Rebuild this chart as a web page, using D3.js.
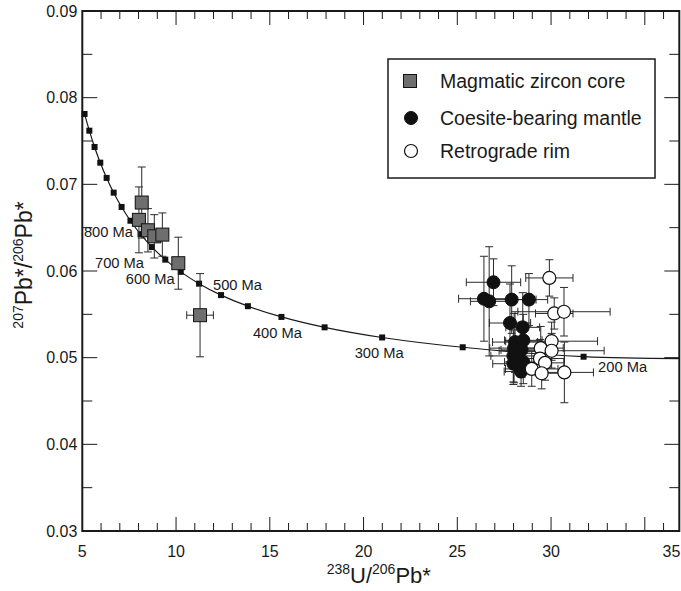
<!DOCTYPE html>
<html>
<head>
<meta charset="utf-8">
<script src="https://cdn.jsdelivr.net/npm/d3@7"></script>
<style>
  html, body { margin: 0; padding: 0; background: #ffffff; }
  svg { display: block; }
  text { font-family: "Liberation Sans", Arial, sans-serif; fill: #1a1a1a; }
</style>
</head>
<body>
<svg id="chart" width="681" height="591"></svg>
<script>
// ---------------- DATA ----------------
// Concordia tick marks (every 50 Ma), 238U/206Pb* and 207Pb*/206Pb*
const concordiaAges = [1150,1100,1050,1000,950,900,850,800,750,700,650,600,550,500,450,400,350,300,250,200];
const concordiaX = [5.12,5.375,5.653,5.959,6.298,6.674,7.095,7.568,8.105,8.718,9.426,10.252,11.228,12.399,13.831,15.621,17.923,20.992,25.289,31.735];
const concordiaY = [0.07812,0.07619,0.07431,0.07250,0.07074,0.06904,0.06739,0.06580,0.06425,0.06276,0.06131,0.05990,0.05854,0.05722,0.05594,0.05470,0.05350,0.05233,0.05120,0.05011];
// the curve continues to the right edge of the frame
const concordiaEndX = 36.9;
const concordiaEndY = 0.0499;

const ageLabelAges = [800,700,600,500,400,300,200];
const ageLabelText = ["800 Ma","700 Ma","600 Ma","500 Ma","400 Ma","300 Ma","200 Ma"];

// Magmatic zircon core
const coreX    = [8.17, 8.02, 8.50, 8.84, 9.27, 10.12, 11.28];
const coreY    = [0.0679,0.0659,0.0647,0.0640,0.0642,0.0609,0.0549];
const coreXErr = [0.30, 0.30, 0.35, 0.30, 0.30, 0.30, 0.71];
const coreYErr = [0.0041,0.0038,0.0025,0.0025,0.0025,0.0030,0.0048];

// Coesite-bearing mantle
const mantleX    = [26.93,26.42,26.70,27.90,28.82,27.81,28.49,28.08,28.52,28.03,28.43,27.99,28.52,27.99,28.40];
const mantleY    = [0.0587,0.0568,0.0565,0.0567,0.0567,0.0540,0.0535,0.0518,0.0520,0.0511,0.0509,0.0502,0.0495,0.0493,0.0484];
const mantleXErr = [1.45, 1.35, 1.00, 1.30, 1.00, 1.10, 0.90, 1.20, 1.00, 1.30, 1.10, 1.20, 1.00, 1.10, 0.90];
const mantleYErr = [0.0027,0.0049,0.0063,0.0039,0.0030,0.0045,0.0040,0.0035,0.0030,0.0040,0.0032,0.0030,0.0025,0.0024,0.0017];

// Retrograde rim
const rimX    = [29.91,30.17,30.69,30.03,29.45,30.03,29.41,29.68,28.97,29.50,30.71];
const rimY    = [0.0592,0.0551,0.0553,0.0519,0.0511,0.0508,0.0499,0.0494,0.0487,0.0482,0.0483];
const rimXErr = [1.26, 1.00, 2.46, 2.45, 1.20, 2.80, 1.30, 1.00, 1.40, 1.00, 1.55];
const rimYErr = [0.0021,0.0018,0.0028,0.0022,0.0025,0.0020,0.0022,0.0020,0.0020,0.0018,0.0035];

const xMajorTicks = [5,10,15,20,25,30,35];
const yMajorTicks = [0.03,0.04,0.05,0.06,0.07,0.08,0.09];
const yTickLabels = ["0.03","0.04","0.05","0.06","0.07","0.08","0.09"];

const legendLabels = ["Magmatic zircon core","Coesite-bearing mantle","Retrograde rim"];

// ---------------- LAYOUT ----------------
const svg = d3.select("#chart");
const x = d3.scaleLinear().domain([5, 36.84]).range([82.3, 679.3]);
const y = d3.scaleLinear().domain([0.03, 0.09]).range([531, 11]);
const [x0, x1] = x.range();
const [y0, y1] = y.range(); // y0 bottom, y1 top
const ink = "#1a1a1a";

// ---------- ticks (inside, all four sides) ----------
const gt = svg.append("g").attr("stroke", ink).attr("stroke-width", 1);
const xMinor = d3.range(6, 37, 1);
xMinor.forEach(v => {
  const major = v % 5 === 0;
  const len = major ? 14 : 8;
  gt.append("line").attr("x1", x(v)).attr("x2", x(v)).attr("y1", y0).attr("y2", y0 - len);
  gt.append("line").attr("x1", x(v)).attr("x2", x(v)).attr("y1", y1).attr("y2", y1 + len);
});
const yMinor = d3.range(0.035, 0.0899, 0.005);
yMinor.forEach(v => {
  const major = Math.abs(Math.round(v * 1000) % 10) === 0;
  const len = major ? 15 : 10;
  gt.append("line").attr("x1", x0).attr("x2", x0 + len).attr("y1", y(v)).attr("y2", y(v));
  gt.append("line").attr("x1", x1).attr("x2", x1 - len).attr("y1", y(v)).attr("y2", y(v));
});

// frame
svg.append("rect").attr("x", x0).attr("y", y1).attr("width", x1 - x0).attr("height", y0 - y1)
  .attr("fill", "none").attr("stroke", ink).attr("stroke-width", 2);

// tick labels
svg.append("g").selectAll("text").data(xMajorTicks).join("text")
  .attr("x", d => d === 35 ? x1 + 1 : x(d))
  .attr("y", 557)
  .attr("text-anchor", d => d === 35 ? "end" : "middle")
  .attr("font-size", 16)
  .text(d => d);
svg.append("g").selectAll("text").data(yMajorTicks).join("text")
  .attr("x", x0 - 5)
  .attr("y", d => y(d))
  .attr("dy", "0.36em")
  .attr("text-anchor", "end")
  .attr("font-size", 16)
  .text((d, i) => yTickLabels[i]);

// axis titles
const xt = svg.append("text").attr("x", (x0 + x1) / 2 - 2).attr("y", 583).attr("text-anchor", "middle");
xt.append("tspan").attr("font-size", 14).attr("dy", -9).text("238");
xt.append("tspan").attr("font-size", 22).attr("dy", 9).text("U/");
xt.append("tspan").attr("font-size", 14).attr("dy", -9).text("206");
xt.append("tspan").attr("font-size", 22).attr("dy", 9).text("Pb*");

const yt = svg.append("text").attr("transform", "translate(32,265) rotate(-90)").attr("text-anchor", "middle");
yt.append("tspan").attr("font-size", 14).attr("dy", -9).text("207");
yt.append("tspan").attr("font-size", 23).attr("dy", 9).text("Pb*/");
yt.append("tspan").attr("font-size", 14).attr("dy", -9).text("206");
yt.append("tspan").attr("font-size", 23).attr("dy", 9).text("Pb*");

// ---------- concordia ----------
const plot = svg.append("g");
svg.append("clipPath").attr("id", "clip").append("rect")
  .attr("x", x0).attr("y", y1).attr("width", x1 - x0).attr("height", y0 - y1);

const curvePts = concordiaX.map((v, i) => [v, concordiaY[i]]).concat([[concordiaEndX, concordiaEndY]]);
plot.append("path")
  .attr("clip-path", "url(#clip)")
  .attr("d", d3.line().x(d => x(d[0])).y(d => y(d[1])).curve(d3.curveCatmullRom)(curvePts))
  .attr("fill", "none").attr("stroke", ink).attr("stroke-width", 1.2);

plot.append("g").selectAll("rect").data(concordiaAges).join("rect")
  .attr("x", (d, i) => x(concordiaX[i]) - 3)
  .attr("y", (d, i) => y(concordiaY[i]) - 3)
  .attr("width", 6).attr("height", 6)
  .attr("fill", "#111");

// age labels: offsets relative to the concordia point
const labelStyle = {
  800: {anchor: "end",    dx: 2.5, dy: 16},
  700: {anchor: "end",    dx: -8,  dy: 21},
  600: {anchor: "end",    dx: -6,  dy: 12},
  500: {anchor: "start",  dx: -8,  dy: -5},
  400: {anchor: "middle", dx: -4,  dy: 21},
  300: {anchor: "middle", dx: -3,  dy: 21},
  200: {anchor: "start",  dx: 14.5, dy: 15}
};

// ---------- error bars ----------
function errorBars(g, xs, ys, xe, ye, color) {
  const cap = 4;
  xs.forEach((xv, i) => {
    const cx = x(xv), cy = y(ys[i]);
    const xa = x(xv - xe[i]), xb = x(xv + xe[i]);
    const ya = y(ys[i] - ye[i]), yb = y(ys[i] + ye[i]);
    const e = g.append("g").attr("stroke", color).attr("stroke-width", 1);
    e.append("line").attr("x1", xa).attr("x2", xb).attr("y1", cy).attr("y2", cy);
    e.append("line").attr("x1", xa).attr("x2", xa).attr("y1", cy - cap).attr("y2", cy + cap);
    e.append("line").attr("x1", xb).attr("x2", xb).attr("y1", cy - cap).attr("y2", cy + cap);
    e.append("line").attr("x1", cx).attr("x2", cx).attr("y1", ya).attr("y2", yb);
    e.append("line").attr("x1", cx - cap).attr("x2", cx + cap).attr("y1", ya).attr("y2", ya);
    e.append("line").attr("x1", cx - cap).attr("x2", cx + cap).attr("y1", yb).attr("y2", yb);
  });
}
const eb = svg.append("g").attr("clip-path", "url(#clip)");
errorBars(eb, coreX, coreY, coreXErr, coreYErr, "#2a2a2a");
errorBars(eb, mantleX, mantleY, mantleXErr, mantleYErr, "#2a2a2a");
errorBars(eb, rimX, rimY, rimXErr, rimYErr, "#2a2a2a");

// labels drawn after error bars
svg.append("g").selectAll("text").data(ageLabelAges).join("text")
  .attr("x", d => x(concordiaX[concordiaAges.indexOf(d)]) + labelStyle[d].dx)
  .attr("y", d => y(concordiaY[concordiaAges.indexOf(d)]) + labelStyle[d].dy)
  .attr("text-anchor", d => labelStyle[d].anchor)
  .attr("font-size", 14.7)
  .text((d, i) => ageLabelText[i]);

// ---------- markers ----------
const sq = 13, r = 6.5;
svg.append("g").selectAll("rect").data(coreX).join("rect")
  .attr("x", d => x(d) - sq / 2)
  .attr("y", (d, i) => y(coreY[i]) - sq / 2)
  .attr("width", sq).attr("height", sq)
  .attr("fill", "#6e6e6e").attr("stroke", "#111").attr("stroke-width", 1);

svg.append("g").selectAll("circle").data(mantleX).join("circle")
  .attr("cx", d => x(d))
  .attr("cy", (d, i) => y(mantleY[i]))
  .attr("r", r)
  .attr("fill", "#111").attr("stroke", "#111").attr("stroke-width", 1);

svg.append("g").selectAll("circle").data(rimX).join("circle")
  .attr("cx", d => x(d))
  .attr("cy", (d, i) => y(rimY[i]))
  .attr("r", r)
  .attr("fill", "#fff").attr("stroke", "#111").attr("stroke-width", 1.2);

// ---------- legend ----------
const lg = svg.append("g");
lg.append("rect").attr("x", 388).attr("y", 59).attr("width", 267).attr("height", 119)
  .attr("fill", "#fff").attr("stroke", ink).attr("stroke-width", 1.5);
const rowY = [81, 118, 151];
lg.append("rect").attr("x", 410 - sq / 2).attr("y", rowY[0] - sq / 2).attr("width", sq).attr("height", sq)
  .attr("fill", "#6e6e6e").attr("stroke", "#111");
lg.append("circle").attr("cx", 411).attr("cy", rowY[1]).attr("r", r).attr("fill", "#111").attr("stroke", "#111");
lg.append("circle").attr("cx", 411).attr("cy", rowY[2]).attr("r", r).attr("fill", "#fff").attr("stroke", "#111").attr("stroke-width", 1.2);
lg.selectAll("text.lab").data(legendLabels).join("text")
  .attr("class", "lab")
  .attr("x", 440)
  .attr("y", (d, i) => rowY[i])
  .attr("dy", "0.36em")
  .attr("font-size", 19.5)
  .text(d => d);
</script>
</body>
</html>
